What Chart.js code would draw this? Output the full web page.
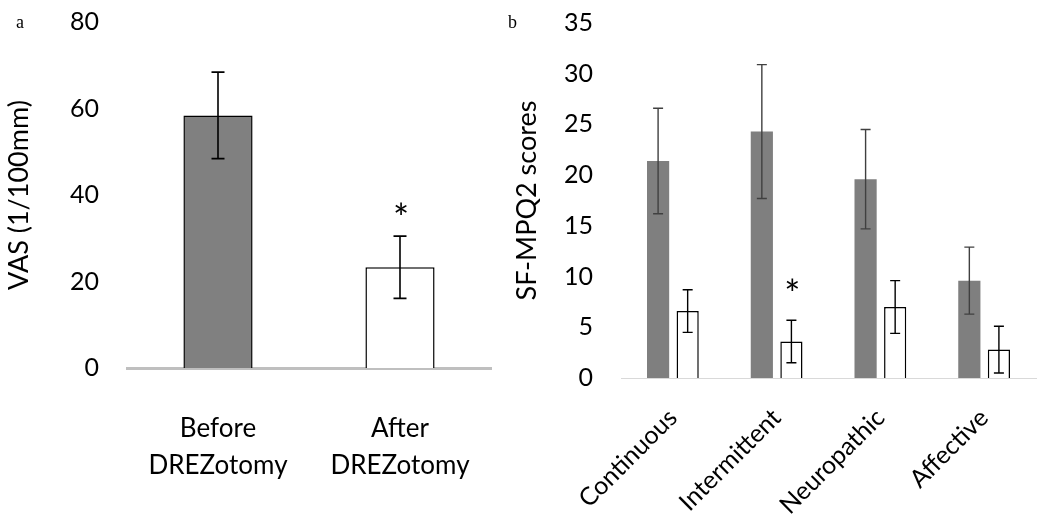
<!DOCTYPE html>
<html>
<head>
<meta charset="utf-8">
<script src="https://cdn.jsdelivr.net/npm/chart.js@4.4.1/dist/chart.umd.min.js"></script>
<style>
    body { margin: 0; background: #fff; width: 1048px; height: 532px; position: relative; overflow: hidden; }
    .panel { position: absolute; top: 0; }
    .tag { position: absolute; font-family: 'Liberation Serif', 'DejaVu Serif', serif; font-size: 18px; color: #000; line-height: 1; }
</style>
</head>
<body>
<div class="panel" style="left:0"><canvas id="vasChart" width="500" height="532"></canvas></div>
<div class="panel" style="left:500px"><canvas id="mpqChart" width="548" height="532"></canvas></div>
<span class="tag" style="left:16px;top:13px">a</span>
<span class="tag" style="left:508px;top:13px">b</span>
<script>
// Panel a: VAS before / after
const vasLabels = [['Before', 'DREZotomy'], ['After', 'DREZotomy']];
const vasMeans = [58.4, 23.3];
const vasErrors = [10.0, 7.2];
const vasSignificant = [false, true];

// Panel b: SF-MPQ2 subscales
const mpqLabels = ['Continuous', 'Intermittent', 'Neuropathic', 'Affective'];
const mpqBefore = [21.4, 24.3, 19.6, 9.6];
const mpqBeforeErrors = [5.2, 6.6, 4.9, 3.3];
const mpqAfter = [6.6, 3.6, 7.0, 2.8];
const mpqAfterErrors = [2.1, 2.1, 2.6, 2.3];
const mpqAfterSignificant = [false, true, false, false];

const FONT = 'Lato, "Open Sans", sans-serif';

// Draws error bars and significance stars from dataset.errors / dataset.stars
const errorBarPlugin = {
    id: 'errorBars',
    afterDatasetsDraw(chart, args, opts) {
        const ctx = chart.ctx;
        const yScale = chart.scales.y;
        chart.data.datasets.forEach((ds, i) => {
            if (!ds.errors) return;
            const meta = chart.getDatasetMeta(i);
            meta.data.forEach((bar, j) => {
                const v = ds.data[j];
                const e = ds.errors[j];
                const yTop = yScale.getPixelForValue(v + e);
                const yBot = yScale.getPixelForValue(v - e);
                const half = opts.capWidth / 2;
                ctx.save();
                ctx.strokeStyle = ds.errorColor || '#000';
                ctx.lineWidth = opts.lineWidth;
                ctx.beginPath();
                ctx.moveTo(bar.x, yTop);
                ctx.lineTo(bar.x, yBot);
                ctx.moveTo(bar.x - half, yTop);
                ctx.lineTo(bar.x + half, yTop);
                ctx.moveTo(bar.x - half, yBot);
                ctx.lineTo(bar.x + half, yBot);
                ctx.stroke();
                if (ds.stars && ds.stars[j]) {
                    ctx.fillStyle = '#000';
                    ctx.font = '38px ' + FONT;
                    ctx.textAlign = 'center';
                    ctx.textBaseline = 'middle';
                    ctx.fillText('*', bar.x + 1, yTop - opts.starGap);
                }
                ctx.restore();
            });
        });
    }
};

// keep the plot area where the padding puts it, labels may overhang
function noScalePadding(s) {
    s.paddingTop = 0;
    s.paddingBottom = 0;
    s.paddingLeft = 0;
    s.paddingRight = 0;
}

new Chart(document.getElementById('vasChart'), {
    type: 'bar',
    data: {
        labels: vasLabels,
        datasets: [{
            data: vasMeans,
            errors: vasErrors,
            stars: vasSignificant,
            errorColor: '#000',
            backgroundColor: ['#808080', '#ffffff'],
            borderColor: '#000',
            borderWidth: 1.5,
            barPercentage: 0.38,
            categoryPercentage: 1
        }]
    },
    options: {
        responsive: false,
        animation: false,
        layout: { padding: { top: 22, right: 9, left: 0, bottom: 0 } },
        plugins: {
            legend: { display: false },
            tooltip: { enabled: false },
            errorBars: { capWidth: 13, lineWidth: 1.6, starGap: 16 }
        },
        scales: {
            x: {
                grid: { display: false, drawTicks: false },
                border: { display: true, color: '#bfbfbf', width: 3 },
                ticks: { color: '#000', font: { family: FONT, size: 26, lineHeight: 1.42 }, padding: 42, maxRotation: 0 },
                afterFit: (s) => { s.height = 164; noScalePadding(s); }
            },
            y: {
                min: 0, max: 80,
                grid: { display: false, drawTicks: false },
                border: { display: false },
                ticks: { stepSize: 20, color: '#000', font: { family: FONT, size: 25 }, padding: 28 },
                title: { display: true, text: 'VAS (1/100mm)', color: '#000', font: { family: FONT, size: 27 }, padding: { top: 3, bottom: 0 } },
                afterFit: (s) => { s.width = 127; noScalePadding(s); }
            }
        }
    },
    plugins: [errorBarPlugin]
});

new Chart(document.getElementById('mpqChart'), {
    type: 'bar',
    data: {
        labels: mpqLabels,
        datasets: [{
            data: mpqBefore,
            errors: mpqBeforeErrors,
            errorColor: '#404040',
            backgroundColor: '#7f7f7f',
            borderWidth: 0
        }, {
            data: mpqAfter,
            errors: mpqAfterErrors,
            stars: mpqAfterSignificant,
            errorColor: '#000',
            backgroundColor: '#ffffff',
            borderColor: '#000',
            borderWidth: 1.5
        }]
    },
    options: {
        responsive: false,
        animation: false,
        layout: { padding: { top: 23, right: 12, left: 0, bottom: 0 } },
        datasets: { bar: { categoryPercentage: 0.57, barPercentage: 0.75 } },
        plugins: {
            legend: { display: false },
            tooltip: { enabled: false },
            errorBars: { capWidth: 10, lineWidth: 1.4, starGap: 24 }
        },
        scales: {
            x: {
                grid: { display: false, drawTicks: false },
                border: { display: true, color: '#d9d9d9', width: 1 },
                ticks: { color: '#000', font: { family: FONT, size: 25 }, padding: 25, minRotation: 45, maxRotation: 45 },
                afterFit: (s) => { s.height = 154; noScalePadding(s); }
            },
            y: {
                min: 0, max: 35,
                grid: { display: false, drawTicks: false },
                border: { display: false },
                ticks: { stepSize: 5, color: '#000', font: { family: FONT, size: 25 }, padding: 28 },
                title: { display: true, text: 'SF-MPQ2 scores', color: '#000', font: { family: FONT, size: 27 }, padding: { top: 11, bottom: 0 } },
                afterFit: (s) => { s.width = 121; noScalePadding(s); }
            }
        }
    },
    plugins: [errorBarPlugin]
});
</script>
</body>
</html>
